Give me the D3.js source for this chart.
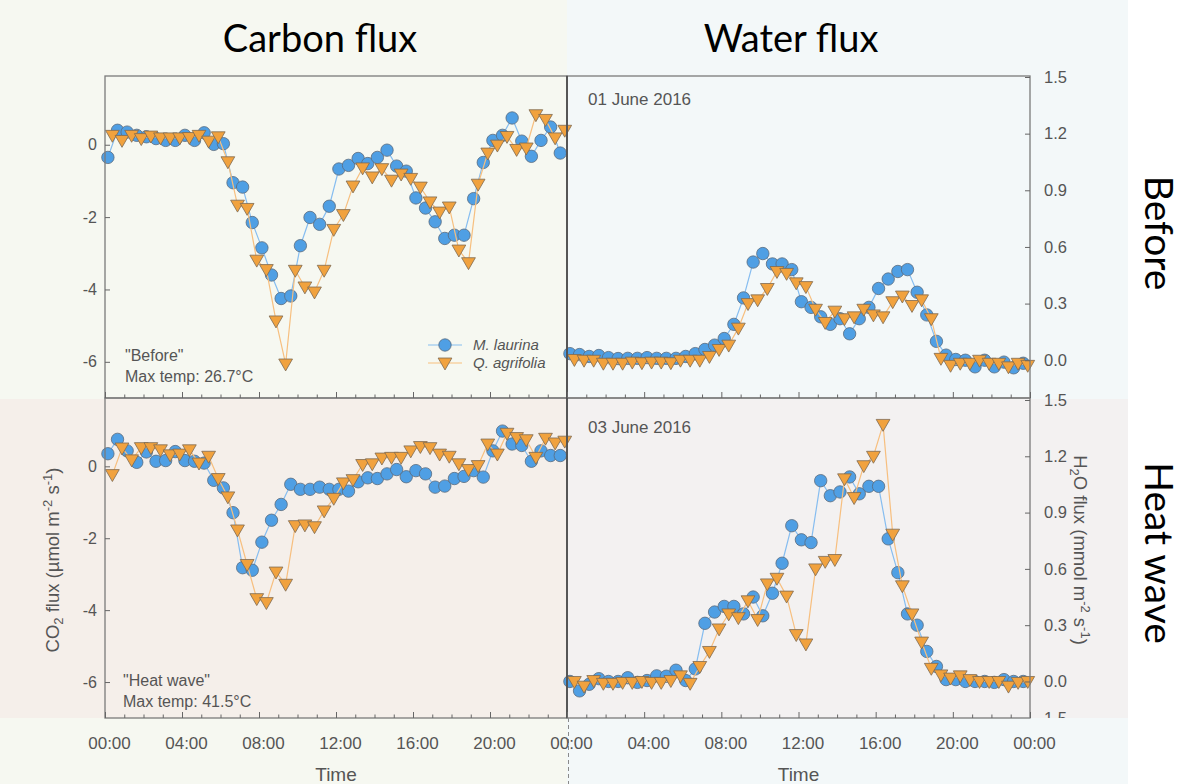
<!DOCTYPE html>
<html><head><meta charset="utf-8">
<script src="https://cdn.jsdelivr.net/npm/d3@7"></script>
<style>body{margin:0;background:#fff;} svg{display:block;}</style>
</head><body><svg id="c" width="1186" height="784"></svg>
<script>
// ---- data ----
const slots = ["00:00","00:30","01:00","01:30","02:00","02:30","03:00","03:30","04:00","04:30","05:00","05:30",
"06:00","06:30","07:00","07:30","08:00","08:30","09:00","09:30","10:00","10:30","11:00","11:30",
"12:00","12:30","13:00","13:30","14:00","14:30","15:00","15:30","16:00","16:30","17:00","17:30",
"18:00","18:30","19:00","19:30","20:00","20:30","21:00","21:30","22:00","22:30","23:00","23:30"];
const offsetMinutes = {ml: 9, qa: 23};
const speciesNames = ["M. laurina", "Q. agrifolia"];
const hourLabels = ["00:00","04:00","08:00","12:00","16:00","20:00","00:00"];
const majorHours = [0,4,8,12,16,20,24];
const minorHours = [1,2,3,5,6,7,9,10,11,13,14,15,17,18,19,21,22,23];
const co2Ticks = [0,-2,-4,-6];
const h2oTicks = [0,0.3,0.6,0.9,1.2,1.5];

const carbonBeforeML = [-0.35,0.40,0.35,0.26,0.22,0.17,0.12,0.12,0.26,0.12,0.33,0.01,0.03,-1.05,-1.17,-2.15,-2.85,-3.6,-4.25,-4.18,-2.79,-2.01,-2.2,-1.7,-0.67,-0.57,-0.38,-0.52,-0.35,-0.15,-0.59,-0.73,-1.47,-1.75,-2.13,-2.59,-2.5,-2.5,-1.49,-0.49,0.12,0.26,0.74,0.10,-0.32,0.12,0.49,-0.23];
const carbonBeforeQA = [0.26,0.12,0.26,0.17,0.24,0.19,0.19,0.19,0.2,0.26,0.1,0.22,-0.47,-1.67,-1.76,-3.19,-3.45,-4.87,-6.06,-3.47,-3.93,-4.07,-3.47,-2.34,-1.93,-1.14,-0.64,-0.89,-0.66,-0.98,-0.81,-0.93,-1.17,-1.58,-1.86,-1.72,-2.91,-3.26,-1.09,-0.23,-0.01,0.23,-0.13,-0.09,0.83,0.70,0.19,0.40];
const waterBeforeML = [0.035,0.03,0.02,0.025,0.014,0.009,0.01,0.01,0.014,0.01,0.01,0.01,0.02,0.035,0.057,0.08,0.115,0.19,0.33,0.52,0.565,0.51,0.51,0.48,0.31,0.28,0.23,0.19,0.22,0.14,0.22,0.28,0.38,0.43,0.47,0.48,0.36,0.24,0.10,0.027,0.004,0.0,-0.035,0.0,-0.035,-0.01,-0.04,-0.016];
const waterBeforeQA = [0.004,0,0,-0.016,-0.016,-0.016,-0.01,-0.013,-0.01,-0.01,-0.013,0,0,0,0.02,0.057,0.08,0.17,0.30,0.32,0.38,0.47,0.46,0.41,0.39,0.27,0.20,0.26,0.22,0.23,0.27,0.24,0.23,0.31,0.34,0.29,0.32,0.22,0.01,-0.027,-0.016,-0.016,0,-0.016,-0.016,-0.035,-0.016,-0.027];
const carbonHeatML = [0.35,0.75,0.43,0.11,0.40,0.14,0.16,0.41,0.16,0.14,0.09,-0.39,-0.60,-1.29,-2.82,-2.89,-2.11,-1.50,-1.06,-0.50,-0.64,-0.64,-0.58,-0.64,-0.64,-0.69,-0.43,-0.32,-0.34,-0.21,-0.09,-0.29,-0.12,-0.21,-0.58,-0.55,-0.34,-0.28,-0.12,-0.30,0.43,0.98,0.62,0.58,0.14,0.43,0.30,0.30];
const carbonHeatQA = [-0.23,0.51,0.18,0.52,0.52,0.46,0.32,0.34,0.46,0.09,0.28,-0.34,-0.85,-1.77,-2.73,-3.68,-3.79,-2.94,-3.28,-1.65,-1.63,-1.68,-1.24,-0.89,-0.46,-0.37,0.05,0.07,0.23,0.25,0.25,0.43,0.55,0.52,0.34,0.28,0.07,-0.09,0.02,0.62,0.34,0.92,0.80,0.74,0.25,0.78,0.65,0.70];
const waterHeatML = [0,-0.05,-0.015,0.015,0,0,0.02,-0.005,0.005,0.03,0.028,0.06,0.005,0.067,0.31,0.37,0.40,0.40,0.36,0.45,0.35,0.47,0.63,0.83,0.755,0.74,1.07,0.99,1.01,1.09,1.00,1.04,1.04,0.76,0.58,0.36,0.30,0.16,0.08,0.01,0.01,0,0,0,-0.005,0.01,0,0];
const waterHeatQA = [0,-0.025,0.005,-0.01,-0.01,-0.005,-0.005,0,-0.005,-0.005,0.005,0.03,-0.01,0.08,0.16,0.28,0.36,0.34,0.43,0.33,0.52,0.55,0.455,0.25,0.20,0.60,0.64,0.65,1.08,0.98,1.15,1.20,1.37,0.785,0.51,0.36,0.21,0.07,0.035,0.018,0.03,0.01,0,0,0,-0.025,-0.005,0];

// ---- drawing ----
const svg = d3.select("#c");
const FONT = "'Liberation Sans', Arial, Helvetica, sans-serif";
const TFONT = "Lato, 'Open Sans', sans-serif";
const BLUE = "#4f9fe4", ORANGE = "#f1a23e";
const BLUE_LINE = "#86bdf0", ORANGE_LINE = "#f7bf7f";

const L = {lx0: 105, mid: 567, rx1: 1030, t0: 76, t1: 398, b0: 398, b1: 718};

// backgrounds
svg.append("rect").attr("x",0).attr("y",0).attr("width",L.mid).attr("height",399).attr("fill","#f6f8f1");
svg.append("rect").attr("x",L.mid).attr("y",0).attr("width",1128-L.mid).attr("height",399).attr("fill","#f3f8f9");
svg.append("rect").attr("x",0).attr("y",399).attr("width",L.mid).attr("height",319).attr("fill","#f5efea");
svg.append("rect").attr("x",L.mid).attr("y",399).attr("width",1128-L.mid).attr("height",319).attr("fill","#f3f1f1");
svg.append("rect").attr("x",0).attr("y",718).attr("width",L.mid).attr("height",66).attr("fill","#f6f8f1");
svg.append("rect").attr("x",L.mid).attr("y",718).attr("width",1128-L.mid).attr("height",66).attr("fill","#f3f8f9");

const xLeft = d3.scaleLinear().domain([0,24]).range([L.lx0, L.mid]);
const xRight = d3.scaleLinear().domain([0,24]).range([L.mid, L.rx1]);
const co2Top = d3.scaleLinear().domain([-7,1.9]).range([L.t1, L.t0]);
const co2Bot = d3.scaleLinear().domain([-7,1.9]).range([L.b1, L.b0]);
const h2oTop = d3.scaleLinear().domain([-0.2,1.5]).range([L.t1, 77]);
const h2oBot = d3.scaleLinear().domain([-0.2,1.5]).range([719, 400]);

function toHours(s, off){ const [h,m] = s.split(":").map(Number); return h + (m+off)/60; }
function series(vals, off){ return vals.map((v,i)=>({t: toHours(slots[i], off), v})); }

function drawData(x, y, ml, qa){
  const g = svg.append("g");
  const dML = series(ml, offsetMinutes.ml), dQA = series(qa, offsetMinutes.qa);
  const line = d3.line().x(d=>x(d.t)).y(d=>y(d.v));
  g.append("path").datum(dML).attr("d", line).attr("fill","none").attr("stroke",BLUE_LINE).attr("stroke-width",1.2);
  g.selectAll("circle").data(dML).join("circle").attr("cx",d=>x(d.t)).attr("cy",d=>y(d.v)).attr("r",6.2)
    .attr("fill",BLUE).attr("stroke","#5b6b7c").attr("stroke-width",0.8);
  g.append("path").datum(dQA).attr("d", line).attr("fill","none").attr("stroke",ORANGE_LINE).attr("stroke-width",1.2);
  const tri = d3.symbol().type(d3.symbolTriangle).size(82);
  g.selectAll("path.tri").data(dQA).join("path").attr("class","tri").attr("d",tri)
    .attr("transform",d=>`translate(${x(d.t)},${y(d.v)-1}) rotate(180)`)
    .attr("fill",ORANGE).attr("stroke","#7d6a52").attr("stroke-width",0.8);
}

drawData(xLeft, co2Top, carbonBeforeML, carbonBeforeQA);
drawData(xRight, h2oTop, waterBeforeML, waterBeforeQA);
drawData(xLeft, co2Bot, carbonHeatML, carbonHeatQA);
drawData(xRight, h2oBot, waterHeatML, waterHeatQA);

// frames
function frame(x0,y0,x1,y1){
  svg.append("rect").attr("x",x0).attr("y",y0).attr("width",x1-x0).attr("height",y1-y0)
    .attr("fill","none").attr("stroke","#7a7a7a").attr("stroke-width",1.3);
}
frame(L.lx0, L.t0, L.mid, L.t1);
frame(L.mid, L.t0, L.rx1, L.t1);
frame(L.lx0, L.b0, L.mid, L.b1);
frame(L.mid, L.b0, L.rx1, L.b1);
svg.append("line").attr("x1",L.mid).attr("x2",L.mid).attr("y1",L.t0).attr("y2",L.b1).attr("stroke","#4a4a4a").attr("stroke-width",1.6);
svg.append("line").attr("x1",L.mid+1.5).attr("x2",L.mid+1.5).attr("y1",L.b1).attr("y2",784)
  .attr("stroke","#8a8a8a").attr("stroke-width",1).attr("stroke-dasharray","4,3");

// x axes (ticks inward)
function xAxes(x, yPos, labels, skipFirst){
  const gMin = svg.append("g").attr("transform",`translate(0,${yPos})`)
    .call(d3.axisBottom(x).tickValues(minorHours).tickSizeInner(-3.5).tickSizeOuter(0).tickFormat(""));
  gMin.select(".domain").remove();
  gMin.selectAll("line").attr("stroke","#666");
  const gMaj = svg.append("g").attr("transform",`translate(0,${yPos})`)
    .call(d3.axisBottom(x).tickValues(majorHours).tickSizeInner(-6).tickSizeOuter(0).tickPadding(19)
      .tickFormat((d,i)=> (labels && !(skipFirst && i===0)) ? hourLabels[i] : ""));
  gMaj.select(".domain").remove();
  gMaj.selectAll("line").attr("stroke","#666");
  gMaj.selectAll("text").attr("font-family",FONT).attr("font-size",17).attr("fill","#555").attr("dx",4);
}
xAxes(xLeft, L.t1, false, false);
xAxes(xRight, L.t1, false, false);
xAxes(xLeft, L.b1, true, false);
xAxes(xRight, L.b1, true, true);

// y axes left
function yLeft(y){
  const g = svg.append("g").attr("transform",`translate(${L.lx0},0)`)
    .call(d3.axisLeft(y).tickValues(co2Ticks).tickSizeInner(-5).tickSizeOuter(0).tickPadding(8).tickFormat(d=>String(d)));
  g.select(".domain").remove();
  g.selectAll("line").attr("stroke","#666");
  g.selectAll("text").attr("font-family",FONT).attr("font-size",16).attr("fill","#555");
}
yLeft(co2Top); yLeft(co2Bot);

function yRight(y){
  const g = svg.append("g").attr("transform",`translate(${L.rx1},0)`)
    .call(d3.axisRight(y).tickValues(h2oTicks).tickSizeInner(-5).tickSizeOuter(0).tickPadding(14).tickFormat(d3.format(".1f")));
  g.select(".domain").remove();
  g.selectAll("line").attr("stroke","#666");
  g.selectAll("text").attr("font-family",FONT).attr("font-size",16.5).attr("fill","#555");
}
yRight(h2oTop); yRight(h2oBot);

// partial top label of a hidden third panel (clipped)
svg.append("clipPath").attr("id","cutLow").append("rect").attr("x",1030).attr("y",700).attr("width",100).attr("height",18);
svg.append("text").attr("clip-path","url(#cutLow)").attr("x",1044).attr("y",724)
  .attr("font-family",FONT).attr("font-size",16.5).attr("fill","#555").text("1.5");

// axis titles
const co2Title = svg.append("text").attr("transform","translate(59,560) rotate(-90)")
  .attr("text-anchor","middle").attr("font-family",FONT).attr("font-size",18.5).attr("fill","#555");
co2Title.append("tspan").text("CO");
co2Title.append("tspan").attr("font-size",13).attr("dy",4).text("2");
co2Title.append("tspan").attr("dy",-4).text(" flux (µmol m");
co2Title.append("tspan").attr("font-size",13).attr("dy",-7).text("-2");
co2Title.append("tspan").attr("dy",7).text(" s");
co2Title.append("tspan").attr("font-size",13).attr("dy",-7).text("-1");
co2Title.append("tspan").attr("dy",7).text(")");

const h2oTitle = svg.append("text").attr("transform","translate(1074,550) rotate(90)")
  .attr("text-anchor","middle").attr("font-family",FONT).attr("font-size",18.5).attr("fill","#555");
h2oTitle.append("tspan").text("H");
h2oTitle.append("tspan").attr("font-size",13).attr("dy",4).text("2");
h2oTitle.append("tspan").attr("dy",-4).text("O flux (mmol m");
h2oTitle.append("tspan").attr("font-size",13).attr("dy",-7).text("-2");
h2oTitle.append("tspan").attr("dy",7).text(" s");
h2oTitle.append("tspan").attr("font-size",13).attr("dy",-7).text("-1");
h2oTitle.append("tspan").attr("dy",7).text(")");

svg.append("text").attr("x",(L.lx0+L.mid)/2).attr("y",781).attr("text-anchor","middle")
  .attr("font-family",FONT).attr("font-size",19).attr("fill","#555").text("Time");
svg.append("text").attr("x",(L.mid+L.rx1)/2).attr("y",781).attr("text-anchor","middle")
  .attr("font-family",FONT).attr("font-size",19).attr("fill","#555").text("Time");

// annotations
function note(x,y,txt,size){ svg.append("text").attr("x",x).attr("y",y).attr("font-family",FONT)
  .attr("font-size",size).attr("fill","#555").text(txt); }
note(125,361,"\"Before\"",16);
note(125,382,"Max temp: 26.7°C",16);
note(123,686,"\"Heat wave\"",16);
note(123,707,"Max temp: 41.5°C",16);
note(588,105,"01 June 2016",17);
note(588,433,"03 June 2016",17);

// legend
const lg = svg.append("g");
lg.append("line").attr("x1",428).attr("x2",462).attr("y1",345).attr("y2",345).attr("stroke",BLUE_LINE).attr("stroke-width",1.2);
lg.append("circle").attr("cx",445).attr("cy",345).attr("r",6.2).attr("fill",BLUE).attr("stroke","#5b6b7c").attr("stroke-width",0.8);
lg.append("line").attr("x1",428).attr("x2",462).attr("y1",363).attr("y2",363).attr("stroke",ORANGE_LINE).attr("stroke-width",1.2);
lg.append("path").attr("d",d3.symbol().type(d3.symbolTriangle).size(82)).attr("transform","translate(445,362) rotate(180)")
  .attr("fill",ORANGE).attr("stroke","#7d6a52").attr("stroke-width",0.8);
lg.append("text").attr("x",473).attr("y",350).attr("font-family",FONT).attr("font-style","italic").attr("font-size",15).attr("fill","#555").text(speciesNames[0]);
lg.append("text").attr("x",473).attr("y",368).attr("font-family",FONT).attr("font-style","italic").attr("font-size",15).attr("fill","#555").text(speciesNames[1]);

// big titles
svg.append("text").attr("x",320).attr("y",52).attr("text-anchor","middle").attr("font-family",TFONT).attr("font-size",38).attr("fill","#000").text("Carbon flux");
svg.append("text").attr("x",791).attr("y",52).attr("text-anchor","middle").attr("font-family",TFONT).attr("font-size",38).attr("fill","#000").text("Water flux");
svg.append("text").attr("transform","translate(1145,233) rotate(90)").attr("text-anchor","middle").attr("font-family",TFONT).attr("font-size",39).attr("fill","#000").text("Before");
svg.append("text").attr("transform","translate(1145,553) rotate(90)").attr("text-anchor","middle").attr("font-family",TFONT).attr("font-size",39).attr("fill","#000").text("Heat wave");
</script></body></html>
